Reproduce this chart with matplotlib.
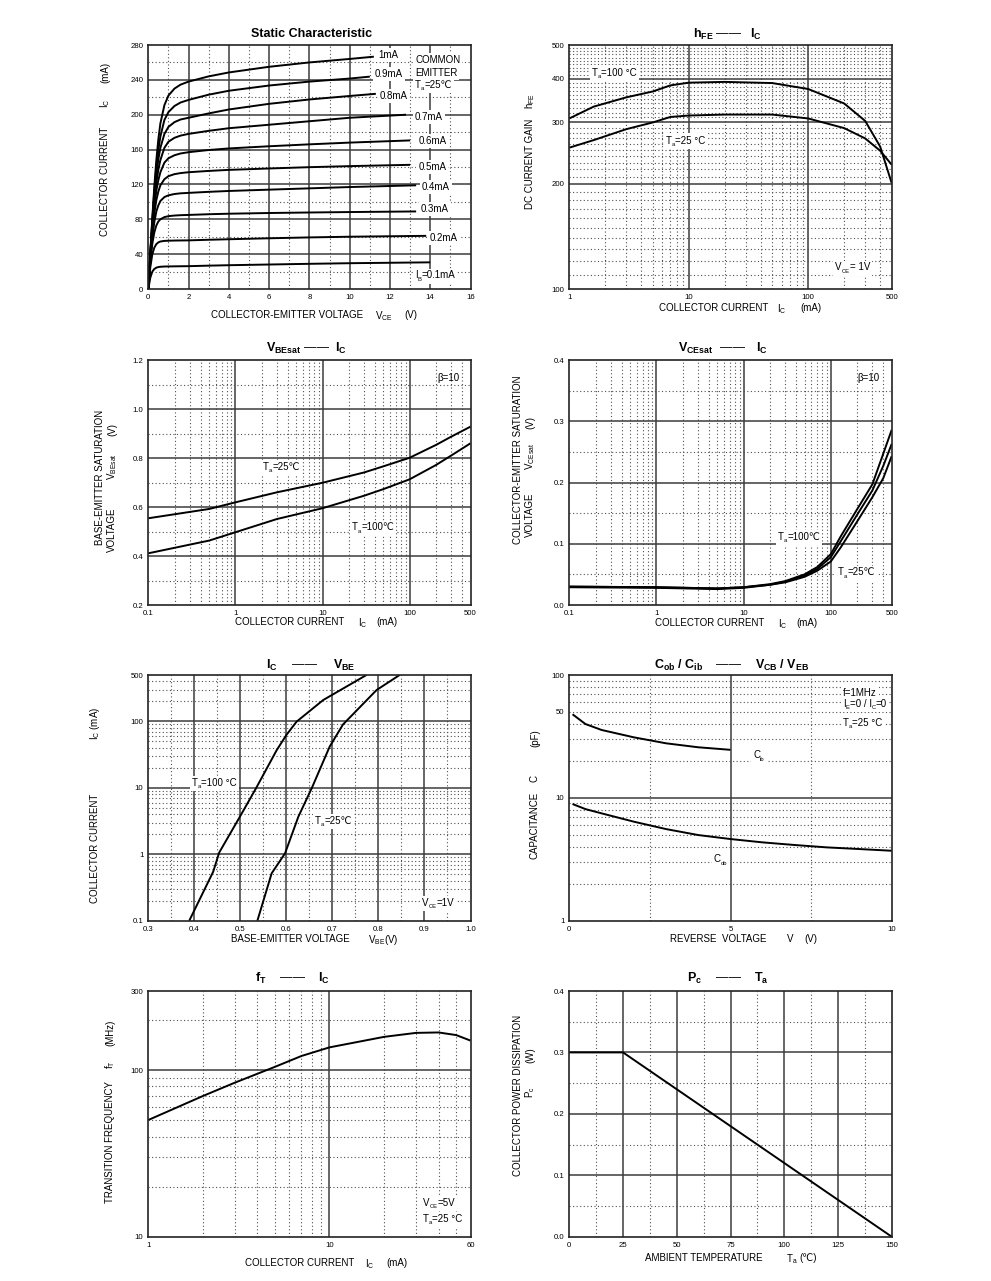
import matplotlib
matplotlib.use('Agg')
import matplotlib.pyplot as plt
from matplotlib.ticker import NullLocator
from matplotlib.patches import Rectangle

plt.rcParams['font.family'] = ['Liberation Sans', 'DejaVu Sans']
plt.rcParams['mathtext.fontset'] = 'custom'
plt.rcParams['mathtext.rm'] = 'Liberation Sans'
plt.rcParams['mathtext.it'] = 'Liberation Sans:italic'
plt.rcParams['mathtext.bf'] = 'Liberation Sans:bold'
plt.rcParams['mathtext.fallback'] = 'stixsans'

# ---------------- data ----------------
# Static characteristic (Ic vs Vce for several Ib)
vce_pts = [0, 0.1, 0.2, 0.3, 0.4, 0.5, 0.6, 0.8, 1.0, 1.3, 1.6, 2, 3, 4, 6, 8, 10]
ib_labels = ['1mA', '0.9mA', '0.8mA', '0.7mA', '0.6mA', '0.5mA', '0.4mA', '0.3mA', '0.2mA', '0.1mA']
vce_end = [11.2, 11.0, 11.3, 12.8, 13.0, 13.0, 13.3, 13.3, 13.8, 14.0]
ic_1_0 = [0, 42, 82, 118, 148, 172, 190, 211, 222, 230, 234.5, 238, 244, 248.5, 255, 260, 264, 266.6]
ic_0_9 = [0, 41, 79, 113, 140, 160, 175, 194, 203, 210, 214, 217, 223, 227.5, 233.5, 238, 241.5, 243.7]
ic_0_8 = [0, 40, 76, 107, 131, 149, 162, 178, 186, 191.5, 194.5, 196.5, 201.5, 206, 212.5, 217.5, 221.5, 224]
ic_0_7 = [0, 39, 73, 101, 122, 137, 148, 162, 169, 173.5, 176, 178, 181.5, 184.5, 188.5, 192.5, 196.5, 200]
ic_0_6 = [0, 38, 70, 95, 113, 125, 134, 145, 150, 153.5, 155.5, 157, 159.5, 161.3, 163.8, 166, 168, 170.5]
ic_0_5 = [0, 36, 65, 87, 102, 112, 119, 126, 129.5, 131.8, 133, 134, 135.5, 136.7, 138.3, 139.8, 141, 142.5]
ic_0_4 = [0, 34, 59, 77, 89, 96, 101, 105.5, 107.5, 109, 109.8, 110.3, 111.5, 112.5, 114, 115.5, 117, 119]
ic_0_3 = [0, 31, 52, 65, 73, 77.5, 80, 82.5, 83.6, 84.3, 84.7, 85, 85.8, 86.4, 87.2, 87.8, 88.3, 89]
ic_0_2 = [0, 25, 40, 47.5, 51.5, 53.5, 54.5, 55.2, 55.4, 55.6, 55.7, 55.8, 56.5, 57.1, 58.2, 59.2, 60, 61]
ic_0_1 = [0, 13, 20, 23, 24.5, 25.2, 25.5, 25.8, 25.9, 26, 26.1, 26.2, 26.8, 27.3, 28.1, 28.9, 29.6, 30.6]

# hFE vs Ic
hfe_ic = [1, 1.6, 3, 5, 7, 10, 20, 50, 100, 200, 300, 400, 500]
hfe_100 = [308, 333, 354, 368, 383, 390, 392, 389, 374, 340, 303, 256, 201]
hfe_25 = [254, 267, 287, 300, 311, 314, 316, 316, 308, 289, 270, 249, 227]

# VBEsat vs Ic
vbe_ic = [0.1, 0.5, 1, 3, 10, 30, 50, 100, 200, 300, 500]
vbesat_25 = [0.554, 0.592, 0.619, 0.66, 0.699, 0.741, 0.766, 0.801, 0.853, 0.887, 0.928]
vbesat_100 = [0.411, 0.463, 0.497, 0.551, 0.595, 0.646, 0.673, 0.713, 0.771, 0.81, 0.86]

# VCEsat vs Ic
vce_ic = [0.1, 1, 5, 10, 20, 30, 50, 70, 100, 130, 200, 300, 400, 500]
vcesat_100a = [0.030, 0.029, 0.027, 0.029, 0.034, 0.039, 0.050, 0.062, 0.083, 0.112, 0.156, 0.197, 0.247, 0.286]
vcesat_100b = [0.029, 0.028, 0.026, 0.028, 0.033, 0.038, 0.048, 0.059, 0.078, 0.104, 0.147, 0.187, 0.227, 0.263]
vcesat_25 = [0.030, 0.029, 0.027, 0.029, 0.033, 0.037, 0.046, 0.056, 0.071, 0.094, 0.136, 0.176, 0.207, 0.243]

# Ic vs VBE
vbe_100 = [0.389, 0.441, 0.454, 0.499, 0.534, 0.579, 0.600, 0.622, 0.680, 0.774]
ic_100 = [0.1, 0.547, 1.06, 3.68, 9.85, 37, 62.5, 99, 210, 500]
vbe_25 = [0.537, 0.568, 0.597, 0.626, 0.655, 0.694, 0.723, 0.796, 0.846]
ic_25 = [0.1, 0.517, 1.03, 3.68, 9.85, 41.7, 90, 297, 500]

# Capacitance vs reverse voltage
cib_v = [0.1, 0.5, 1, 2, 3, 4, 5]
cib = [47.9, 39.9, 35.7, 31.1, 27.8, 25.8, 24.6]
cob_v = [0.1, 0.5, 1, 2, 3, 4, 5, 6, 7, 8, 9, 10]
cob = [8.91, 8.1, 7.48, 6.40, 5.57, 4.98, 4.62, 4.34, 4.13, 3.95, 3.83, 3.71]

# fT vs Ic
ft_ic = [1, 2, 3, 5, 7, 10, 20, 30, 40, 50, 60]
ft = [50.3, 70.1, 84.3, 105, 122, 137.5, 159, 168, 169, 163, 151]

# Pc vs Ta
pc_ta = [0, 25, 150]
pc = [0.3, 0.3, 0.0]

# ---------------- layout ----------------
W, H = 991, 1281
fig = plt.figure(figsize=(W / 100, H / 100), dpi=100)
fig.patch.set_facecolor('white')
REND = fig.canvas.get_renderer()

LEFT = (148.3, 470.5)
RIGHT = (569.3, 891.7)
ROWS = [(45, 289), (360, 605), (675, 920.7), (991, 1236.7)]

TICK_FS = 5.6
LAB_FS = 7
ANN_FS = 7
TIT_FS = 9
LINE = dict(color='black', lw=1.4, zorder=3, solid_capstyle='butt')
MAJ = dict(color='#3c3c3c', lw=1.1, zorder=1)
MIN = dict(color='#505050', lw=0.8, ls=(0, (1, 2.2)), zorder=1)
BOX = dict(facecolor='white', edgecolor='none', pad=1.5)


def make_ax(col, row):
    l, r = col
    t, b = row
    ax = fig.add_axes([l / W, 1 - b / H, (r - l) / W, (b - t) / H])
    for s in ax.spines.values():
        s.set_linewidth(1.2)
        s.set_color('#222222')
        s.set_zorder(4)
    ax.tick_params(length=0, labelsize=TICK_FS, pad=3.5)
    return ax


def grid(ax, xmaj=(), xmin=(), ymaj=(), ymin=()):
    for v in xmaj:
        ax.axvline(v, **MAJ)
    for v in xmin:
        ax.axvline(v, **MIN)
    for v in ymaj:
        ax.axhline(v, **MAJ)
    for v in ymin:
        ax.axhline(v, **MIN)


def logminors(lo, hi):
    out = []
    e = -3
    while 10 ** e <= hi:
        for m in range(2, 10):
            v = m * 10 ** e
            if lo < v < hi:
                out.append(v)
        e += 1
    return out


def ftxt(x, y, s, size=LAB_FS, rot=0, bold=False, ha='center'):
    fig.text(x / W, 1 - y / H, s, fontsize=size, rotation=rot,
             fontweight='bold' if bold else 'normal', ha=ha, va='center')


def atxt(ax, x, y, s, box=True, ha='left'):
    ax.text(x / W, 1 - y / H, s, transform=fig.transFigure, fontsize=ANN_FS,
            ha=ha, va='center', bbox=BOX if box else None, zorder=2, clip_on=False)


def rich(ax, x, y, parts, box=False, size=ANN_FS):
    """Sequential text pieces; 'sub' pieces are small and lowered.
    x: left pixel, y: visual centre of capitals in pixels."""
    base = y + 3.5
    cx = x
    x0, x1, y0, y1 = [], [], [], []
    for s, kind in parts:
        sub = kind == 'sub'
        fs = size * 0.6 if sub else size
        yy = base + (2.2 if sub else 0)
        t = ax.text(cx / W, 1 - yy / H, s, transform=fig.transFigure, fontsize=fs,
                    ha='left', va='baseline', zorder=2.6, clip_on=False)
        bb = t.get_window_extent(renderer=REND)
        x0.append(bb.x0); x1.append(bb.x1); y0.append(bb.y0); y1.append(bb.y1)
        cx += bb.width
    if box:
        p = 2.0
        bx0, bx1 = min(x0) - p, max(x1) + p
        by0, by1 = min(y0) - p, max(y1) + p
        ax.add_patch(Rectangle((bx0 / W, by0 / H), (bx1 - bx0) / W, (by1 - by0) / H,
                               transform=fig.transFigure, facecolor='white',
                               edgecolor='none', zorder=2.5, clip_on=False))


def title(parts, y):
    for s, x in parts:
        if s == 'dash':
            ftxt(x, y, '——', size=TIT_FS)
        else:
            ftxt(x, y, s, size=TIT_FS, bold=True)


def ticks(ax, xt, xl, yt, yl):
    ax.set_xticks(xt)
    ax.set_xticklabels(xl)
    ax.set_yticks(yt)
    ax.set_yticklabels(yl)
    ax.xaxis.set_minor_locator(NullLocator())
    ax.yaxis.set_minor_locator(NullLocator())


def ta(val):
    return [('T', ''), ('a', 'sub'), ('=' + val, '')]


# ---------- Panel 1: static characteristic ----------
ax = make_ax(LEFT, ROWS[0])
ax.set_xlim(0, 16)
ax.set_ylim(0, 280)
grid(ax, xmaj=[2, 4, 6, 8, 10, 12, 14], xmin=[1, 3, 5, 7, 9, 11, 13, 15],
     ymaj=[40, 80, 120, 160, 200, 240], ymin=[20, 60, 100, 140, 180, 220, 260])
curves = [ic_1_0, ic_0_9, ic_0_8, ic_0_7, ic_0_6, ic_0_5, ic_0_4, ic_0_3, ic_0_2, ic_0_1]
for ic, ve in zip(curves, vce_end):
    ax.plot(vce_pts + [ve], ic, **LINE)
ticks(ax, list(range(0, 17, 2)), [str(v) for v in range(0, 17, 2)],
      list(range(0, 281, 40)), [str(v) for v in range(0, 281, 40)])
lab_pos = [(378, 55), (375, 74), (380, 96), (415, 116.7), (418.3, 140.7),
           (418.3, 167.3), (421.7, 186.7), (421, 209.3), (429.3, 238.3)]
for lab, (px, py) in zip(ib_labels[:-1], lab_pos):
    atxt(ax, px, py, lab)
rich(ax, 415, 275, [('I', ''), ('B', 'sub'), ('=' + ib_labels[-1], '')], box=True)
atxt(ax, 415, 60, 'COMMON')
atxt(ax, 415, 72.7, 'EMITTER')
rich(ax, 415, 84.5, ta('25℃'), box=True)
ftxt(312, 34, 'Static Characteristic', size=TIT_FS, bold=True)
ftxt(105, 181, 'COLLECTOR CURRENT', rot=90)
ftxt(105, 103, r'I$_{\mathrm{C}}$', rot=90)
ftxt(105, 72, '(mA)', rot=90)
ftxt(287.5, 315, 'COLLECTOR-EMITTER VOLTAGE')
ftxt(384, 316, r'V$_{\mathrm{CE}}$')
ftxt(411, 315, '(V)')

# ---------- Panel 2: hFE ----------
ax = make_ax(RIGHT, ROWS[0])
ax.set_xscale('log')
ax.set_yscale('log')
ax.set_xlim(1, 500)
ax.set_ylim(100, 500)
grid(ax, xmaj=[10, 100], xmin=logminors(1, 500), ymaj=[200, 300, 400],
     ymin=[v for v in range(110, 500, 10) if v not in (200, 300, 400)])
ax.plot(hfe_ic, hfe_100, **LINE)
ax.plot(hfe_ic, hfe_25, **LINE)
ticks(ax, [1, 10, 100, 500], ['1', '10', '100', '500'],
      [100, 200, 300, 400, 500], ['100', '200', '300', '400', '500'])
rich(ax, 592, 72, ta('100 °C'), box=True)
rich(ax, 666, 140, ta('25 °C'), box=True)
rich(ax, 835, 267, [('V', ''), ('CE', 'sub'), ('= 1V', '')], box=True)
title([(r'h$_{\mathbf{FE}}$', 703), ('dash', 728), (r'I$_{\mathbf{C}}$', 756)], 34)
ftxt(530, 163.5, 'DC CURRENT GAIN', rot=90)
ftxt(530, 101, r'h$_{\mathrm{FE}}$', rot=90)
ftxt(713.5, 308, 'COLLECTOR CURRENT')
ftxt(782, 309, r'I$_{\mathrm{C}}$')
ftxt(811, 308, '(mA)')

# ---------- Panel 3: VBEsat ----------
ax = make_ax(LEFT, ROWS[1])
ax.set_xscale('log')
ax.set_xlim(0.1, 500)
ax.set_ylim(0.2, 1.2)
grid(ax, xmaj=[1, 10, 100], xmin=logminors(0.1, 500), ymaj=[0.4, 0.6, 0.8, 1.0],
     ymin=[0.3, 0.5, 0.7, 0.9, 1.1])
ax.plot(vbe_ic, vbesat_25, **LINE)
ax.plot(vbe_ic, vbesat_100, **LINE)
ticks(ax, [0.1, 1, 10, 100, 500], ['0.1', '1', '10', '100', '500'],
      [0.2, 0.4, 0.6, 0.8, 1.0, 1.2], ['0.2', '0.4', '0.6', '0.8', '1.0', '1.2'])
rich(ax, 263, 466, ta('25℃'), box=True)
rich(ax, 352, 527, ta('100℃'), box=True)
atxt(ax, 437, 378, 'β=10', box=False)
title([(r'V$_{\mathbf{BEsat}}$', 284), ('dash', 316), (r'I$_{\mathbf{C}}$', 341)], 348)
ftxt(100, 477.5, 'BASE-EMITTER SATURATION', rot=90)
ftxt(112, 530, 'VOLTAGE', rot=90)
ftxt(112, 467, r'V$_{\mathrm{BEsat}}$', rot=90)
ftxt(112, 430, '(V)', rot=90)
ftxt(290, 622, 'COLLECTOR CURRENT')
ftxt(363, 623, r'I$_{\mathrm{C}}$')
ftxt(387, 622, '(mA)')

# ---------- Panel 4: VCEsat ----------
ax = make_ax(RIGHT, ROWS[1])
ax.set_xscale('log')
ax.set_xlim(0.1, 500)
ax.set_ylim(0, 0.4)
grid(ax, xmaj=[1, 10, 100], xmin=logminors(0.1, 500), ymaj=[0.1, 0.2, 0.3],
     ymin=[0.05, 0.15, 0.25, 0.35])
ax.plot(vce_ic, vcesat_100a, **LINE)
ax.plot(vce_ic, vcesat_100b, **LINE)
ax.plot(vce_ic, vcesat_25, **LINE)
ticks(ax, [0.1, 1, 10, 100, 500], ['0.1', '1', '10', '100', '500'],
      [0, 0.1, 0.2, 0.3, 0.4], ['0.0', '0.1', '0.2', '0.3', '0.4'])
rich(ax, 778, 536, ta('100℃'), box=True)
rich(ax, 838, 572, ta('25℃'), box=True)
atxt(ax, 857, 378, 'β=10', box=False)
title([(r'V$_{\mathbf{CEsat}}$', 696), ('dash', 733), (r'I$_{\mathbf{C}}$', 762)], 348)
ftxt(518, 460, 'COLLECTOR-EMITTER SATURATION', rot=90)
ftxt(530, 515, 'VOLTAGE', rot=90)
ftxt(530, 456, r'V$_{\mathrm{CEsat}}$', rot=90)
ftxt(530, 423, '(V)', rot=90)
ftxt(710, 623, 'COLLECTOR CURRENT')
ftxt(783, 624, r'I$_{\mathrm{C}}$')
ftxt(807, 623, '(mA)')

# ---------- Panel 5: Ic vs VBE ----------
ax = make_ax(LEFT, ROWS[2])
ax.set_yscale('log')
ax.set_xlim(0.3, 1.0)
ax.set_ylim(0.1, 500)
grid(ax, xmaj=[0.4, 0.5, 0.6, 0.7, 0.8, 0.9], xmin=[0.35, 0.45, 0.55, 0.65, 0.75, 0.85, 0.95],
     ymaj=[1, 10, 100], ymin=logminors(0.1, 500))
ax.plot(vbe_100, ic_100, **LINE)
ax.plot(vbe_25, ic_25, **LINE)
ticks(ax, [0.3, 0.4, 0.5, 0.6, 0.7, 0.8, 0.9, 1.0],
      ['0.3', '0.4', '0.5', '0.6', '0.7', '0.8', '0.9', '1.0'],
      [0.1, 1, 10, 100, 500], ['0.1', '1', '10', '100', '500'])
rich(ax, 192, 782, ta('100 °C'), box=True)
rich(ax, 315, 820, ta('25℃'), box=True)
rich(ax, 422, 902, [('V', ''), ('CE', 'sub'), ('=1V', '')], box=True)
title([(r'I$_{\mathbf{C}}$', 272), ('dash', 304), (r'V$_{\mathbf{BE}}$', 344)], 665)
ftxt(95, 848, 'COLLECTOR CURRENT', rot=90)
ftxt(95, 723, r'I$_{\mathrm{C}}$ (mA)', rot=90)
ftxt(290, 939, 'BASE-EMITTER VOLTAGE')
ftxt(383, 940, r'V$_{\mathrm{BE}}$(V)')

# ---------- Panel 6: capacitance ----------
ax = make_ax(RIGHT, ROWS[2])
ax.set_yscale('log')
ax.set_xlim(0, 10)
ax.set_ylim(1, 100)
grid(ax, xmaj=[5], xmin=[2.5, 7.5], ymaj=[10], ymin=logminors(1, 100))
ax.plot(cib_v, cib, **LINE)
ax.plot(cob_v, cob, **LINE)
ticks(ax, [0, 5, 10], ['0', '5', '10'], [1, 10, 50, 100], ['1', '10', '50', '100'])
rich(ax, 843, 692, [('f=1MHz', '')], box=True)
rich(ax, 843, 703.5, [('I', ''), ('E', 'sub'), ('=0 / I', ''), ('C', 'sub'), ('=0', '')], box=True)
rich(ax, 843, 722, ta('25 °C'), box=True)
rich(ax, 753, 755, [('C', ''), ('ib', 'sub')], box=True)
rich(ax, 714, 859, [('C', ''), ('ob', 'sub')], box=True)
title([(r'C$_{\mathbf{ob}}$ / C$_{\mathbf{ib}}$', 679), ('dash', 728),
       (r'V$_{\mathbf{CB}}$ / V$_{\mathbf{EB}}$', 782)], 665)
ftxt(535, 825, 'CAPACITANCE', rot=90)
ftxt(535, 779, 'C', rot=90)
ftxt(535, 738, '(pF)', rot=90)
ftxt(718, 939, 'REVERSE  VOLTAGE')
ftxt(790, 939, 'V')
ftxt(811, 939, '(V)')

# ---------- Panel 7: fT ----------
ax = make_ax(LEFT, ROWS[3])
ax.set_xscale('log')
ax.set_yscale('log')
ax.set_xlim(1, 60)
ax.set_ylim(10, 300)
grid(ax, xmaj=[10], xmin=logminors(1, 60), ymaj=[100], ymin=logminors(10, 300))
ax.plot(ft_ic, ft, **LINE)
ticks(ax, [1, 10, 60], ['1', '10', '60'], [10, 100, 300], ['10', '100', '300'])
rich(ax, 423, 1202, [('V', ''), ('CE', 'sub'), ('=5V', '')], box=True)
rich(ax, 423, 1218, ta('25 °C'), box=True)
title([(r'f$_{\mathbf{T}}$', 261), ('dash', 292), (r'I$_{\mathbf{C}}$', 324)], 978)
ftxt(110, 1142, 'TRANSITION FREQUENCY', rot=90)
ftxt(110, 1065, r'f$_{\mathrm{T}}$', rot=90)
ftxt(110, 1033, '(MHz)', rot=90)
ftxt(300, 1263, 'COLLECTOR CURRENT')
ftxt(370, 1264, r'I$_{\mathrm{C}}$')
ftxt(397, 1263, '(mA)')

# ---------- Panel 8: Pc vs Ta ----------
ax = make_ax(RIGHT, ROWS[3])
ax.set_xlim(0, 150)
ax.set_ylim(0, 0.4)
grid(ax, xmaj=[25, 50, 75, 100, 125], xmin=[12.5, 37.5, 62.5, 87.5, 112.5, 137.5],
     ymaj=[0.1, 0.2, 0.3], ymin=[0.05, 0.15, 0.25, 0.35])
ax.plot(pc_ta, pc, **LINE)
ticks(ax, [0, 25, 50, 75, 100, 125, 150], ['0', '25', '50', '75', '100', '125', '150'],
      [0, 0.1, 0.2, 0.3, 0.4], ['0.0', '0.1', '0.2', '0.3', '0.4'])
title([(r'P$_{\mathbf{c}}$', 695), ('dash', 728), (r'T$_{\mathbf{a}}$', 761)], 978)
ftxt(518, 1095, 'COLLECTOR POWER DISSIPATION', rot=90)
ftxt(530, 1092, r'P$_{\mathrm{c}}$', rot=90)
ftxt(530, 1055, '(W)', rot=90)
ftxt(704, 1258, 'AMBIENT TEMPERATURE')
ftxt(792, 1259, r'T$_{\mathrm{a}}$')
ftxt(808, 1258, '(℃)')

fig.savefig('out.png', dpi=100, facecolor='white')
